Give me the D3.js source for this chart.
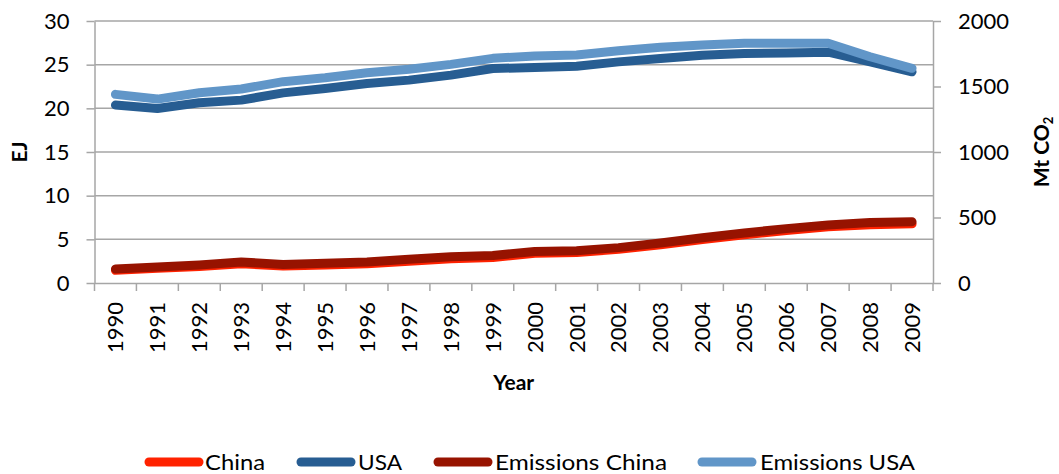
<!DOCTYPE html>
<html>
<head>
<meta charset="utf-8">
<script src="https://cdn.jsdelivr.net/npm/d3@7"></script>
<style>
  html, body { margin: 0; padding: 0; background: #fff; }
  svg { display: block; }
  text { font-family: Lato, "Open Sans", sans-serif; fill: #000; }
</style>
</head>
<body>
<svg id="chart" width="1059" height="474"></svg>
<script>
// Energy use (EJ, left axis) and CO2 emissions (Mt, right axis), 1990-2009
const years = d3.range(1990, 2010).map(String);
const china = [1.45, 1.68, 1.9, 2.2, 1.95, 2.05, 2.2, 2.5, 2.78, 2.93, 3.4, 3.5, 3.85, 4.37, 4.97, 5.53, 6.02, 6.43, 6.68, 6.77];
const usa = [20.37, 19.99, 20.63, 20.94, 21.77, 22.28, 22.85, 23.23, 23.8, 24.56, 24.68, 24.83, 25.32, 25.71, 26.09, 26.28, 26.35, 26.43, 25.32, 24.18];
const emissionsChina = [107, 122, 138, 160, 142, 150, 160, 182, 200, 210, 240, 247, 270, 305, 345, 382, 415, 442, 462, 468];
const emissionsUSA = [1440, 1404, 1452, 1481, 1537, 1567, 1605, 1631, 1669, 1715, 1733, 1740, 1773, 1799, 1817, 1830, 1830, 1830, 1727, 1639];
const leftTicks = [0, 5, 10, 15, 20, 25, 30];
const rightTicks = [0, 500, 1000, 1500, 2000];
const seriesNames = ["China", "USA", "Emissions China", "Emissions USA"];

const svg = d3.select("#chart");
const plot = { left: 94.5, right: 933, top: 21, bottom: 283 };
const grey = "#a6a6a6";

const x = d3.scaleBand().domain(years).range([plot.left, plot.right]).padding(0);
const yL = d3.scaleLinear().domain([0, 30]).range([plot.bottom, plot.top]);
const yR = d3.scaleLinear().domain([0, 2000]).range([plot.bottom, plot.top]);
const cx = yr => x(yr) + x.bandwidth() / 2;

// horizontal gridlines
svg.append("g").selectAll("line").data(leftTicks.filter(d => d > 0)).join("line")
  .attr("x1", plot.left).attr("x2", plot.right)
  .attr("y1", d => yL(d)).attr("y2", d => yL(d))
  .attr("stroke", grey).attr("stroke-width", 1.5);

// left axis
const gL = svg.append("g").attr("transform", `translate(${plot.left},0)`)
  .call(d3.axisLeft(yL).tickValues(leftTicks).tickFormat(d3.format("d"))
    .tickSize(8).tickSizeOuter(0).tickPadding(17));
// right axis
const gR = svg.append("g").attr("transform", `translate(${plot.right},0)`)
  .call(d3.axisRight(yR).tickValues(rightTicks).tickFormat(d3.format("d"))
    .tickSize(8).tickSizeOuter(0).tickPadding(17));
// bottom axis, labels only; ticks sit on category boundaries
const gB = svg.append("g").attr("transform", `translate(0,${plot.bottom})`)
  .call(d3.axisBottom(x).tickSize(0).tickSizeOuter(0));
gB.selectAll(".tick text")
  .attr("transform", "translate(0,19) rotate(-90)")
  .attr("text-anchor", "end").attr("x", 0).attr("y", 0).attr("dy", "0.36em");
svg.append("g").selectAll("line").data(years.map(x).concat([plot.right])).join("line")
  .attr("x1", d => d).attr("x2", d => d)
  .attr("y1", plot.bottom).attr("y2", plot.bottom + 8)
  .attr("stroke", grey).attr("stroke-width", 1.5);

[gL, gR, gB].forEach(g => {
  g.selectAll(".domain").attr("stroke", grey).attr("stroke-width", 1.5);
  g.selectAll(".tick line").attr("stroke", grey).attr("stroke-width", 1.5);
  g.selectAll(".tick text").attr("font-size", 22).attr("font-family", "Lato, sans-serif").attr("fill", "#000");
});

// series lines
const series = [
  { name: seriesNames[0], values: china, scale: yL, color: "#ff2200" },
  { name: seriesNames[1], values: usa, scale: yL, color: "#275d92" },
  { name: seriesNames[2], values: emissionsChina, scale: yR, color: "#971300" },
  { name: seriesNames[3], values: emissionsUSA, scale: yR, color: "#6196c8" }
];
series.forEach(s => {
  const line = d3.line().x((d, i) => cx(years[i])).y(d => s.scale(d));
  svg.append("path").datum(s.values)
    .attr("d", line).attr("fill", "none")
    .attr("stroke", s.color).attr("stroke-width", 9)
    .attr("stroke-linecap", "round").attr("stroke-linejoin", "round");
});

// axis titles
svg.append("text").attr("transform", `translate(27,${(plot.top + plot.bottom) / 2}) rotate(-90)`)
  .attr("text-anchor", "middle").attr("font-size", 21).attr("font-weight", "bold").text("EJ");
const rt = svg.append("text").attr("transform", `translate(1049,${(plot.top + plot.bottom) / 2}) rotate(-90)`)
  .attr("text-anchor", "middle").attr("font-size", 21).attr("font-weight", "bold");
rt.append("tspan").text("Mt CO");
rt.append("tspan").attr("font-size", 13).attr("dy", 4).text("2");
svg.append("text").attr("x", (plot.left + plot.right) / 2).attr("y", 390)
  .attr("text-anchor", "middle").attr("font-size", 21).attr("font-weight", "bold").text("Year");

// legend
const legendPos = [
  { x: 145, tx: 205, w: 60 },
  { x: 297, tx: 358, w: 44 },
  { x: 434, tx: 495, w: 172 },
  { x: 698, tx: 760, w: 155 }
];
const lg = svg.append("g");
series.forEach((s, i) => {
  const p = legendPos[i];
  lg.append("line").attr("x1", p.x + 4).attr("x2", p.x + 54).attr("y1", 462).attr("y2", 462)
    .attr("stroke", s.color).attr("stroke-width", 9).attr("stroke-linecap", "round");
  lg.append("text").attr("x", p.tx).attr("y", 470).attr("font-size", 22)
    .attr("textLength", p.w).attr("lengthAdjust", "spacingAndGlyphs").text(s.name);
});
</script>
</body>
</html>
